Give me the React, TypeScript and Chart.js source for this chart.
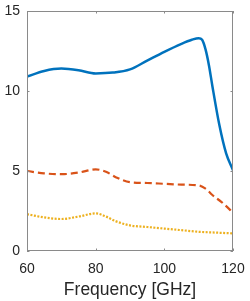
import React, { useEffect, useRef } from "react";
import { Chart, registerables } from "chart.js";

Chart.register(...registerables);

const freqBlue = [60, 65, 70, 75, 80, 85, 90, 95, 100, 105, 108, 110, 111, 112, 113, 114, 116, 118, 120];
const valBlue = [10.9, 11.25, 11.4, 11.3, 11.1, 11.15, 11.35, 11.9, 12.45, 12.95, 13.2, 13.3, 13.2, 12.6, 11.6, 10.3, 7.9, 6.1, 5.05];

const freqOrange = [60, 65, 70, 75, 80, 83, 86, 90, 95, 100, 105, 110, 112, 114, 117, 120];
const valOrange = [5.0, 4.85, 4.8, 4.9, 5.1, 4.95, 4.6, 4.3, 4.25, 4.2, 4.15, 4.1, 3.9, 3.5, 3.0, 2.4];

const freqYellow = [60, 65, 70, 75, 80, 83, 86, 90, 95, 100, 105, 110, 115, 120];
const valYellow = [2.3, 2.1, 2.0, 2.15, 2.35, 2.15, 1.85, 1.6, 1.5, 1.4, 1.3, 1.2, 1.15, 1.1];

const xTicks = [60, 80, 100, 120];
const yTicks = [0, 5, 10, 15];
const xLabel = "Frequency [GHz]";

const toPts = (xs: number[], ys: number[]) => xs.map((x, i) => ({ x, y: ys[i] }));

const boxPlugin = {
  id: "boxTicks",
  afterDraw(chart: any) {
    const { ctx, chartArea } = chart;
    const { left, right, top, bottom } = chartArea;
    const xs = chart.scales.x;
    const ys = chart.scales.y;
    const tl = 2.5;
    ctx.save();
    ctx.strokeStyle = "#8a8a8a";
    ctx.lineWidth = 1;
    ctx.strokeRect(left + 0.5, top + 0.5, right - left - 1, bottom - top - 1);
    ctx.beginPath();
    xTicks.forEach((v) => {
      const px = Math.round(xs.getPixelForValue(v)) + 0.5;
      ctx.moveTo(px, bottom);
      ctx.lineTo(px, bottom - tl);
      ctx.moveTo(px, top);
      ctx.lineTo(px, top + tl);
    });
    yTicks.forEach((v) => {
      const py = Math.round(ys.getPixelForValue(v)) + 0.5;
      ctx.moveTo(left, py);
      ctx.lineTo(left + tl, py);
      ctx.moveTo(right, py);
      ctx.lineTo(right - tl, py);
    });
    ctx.stroke();
    ctx.restore();
  },
};

const zeroPad = (s: any) => {
  s.paddingTop = 0;
  s.paddingBottom = 0;
  s.paddingLeft = 0;
  s.paddingRight = 0;
};

export default function App() {
  const ref = useRef<HTMLCanvasElement>(null);
  useEffect(() => {
    if (!ref.current) return;
    const chart = new Chart(ref.current, {
      type: "line",
      data: {
        datasets: [
          {
            data: toPts(freqBlue, valBlue),
            borderColor: "#0072BD",
            borderWidth: 2.5,
            pointRadius: 0,
            cubicInterpolationMode: "monotone",
            fill: false,
          },
          {
            data: toPts(freqOrange, valOrange),
            borderColor: "#D95319",
            borderWidth: 2.2,
            borderDash: [7, 4],
            pointRadius: 0,
            cubicInterpolationMode: "monotone",
            fill: false,
          },
          {
            data: toPts(freqYellow, valYellow),
            borderColor: "#EDB120",
            borderWidth: 2.2,
            borderDash: [2, 1.5],
            pointRadius: 0,
            cubicInterpolationMode: "monotone",
            fill: false,
          },
        ],
      },
      options: {
        responsive: false,
        animation: false,
        layout: { padding: { top: 11, right: 17, left: 0, bottom: 0 } },
        plugins: { legend: { display: false }, tooltip: { enabled: false } },
        scales: {
          x: {
            type: "linear",
            min: 60,
            max: 120,
            grid: { display: false, drawTicks: false },
            border: { display: false },
            afterFit: (s: any) => {
              s.height = 50;
              zeroPad(s);
            },
            afterBuildTicks: (s: any) => {
              s.ticks = xTicks.map((v) => ({ value: v }));
            },
            ticks: {
              color: "#262626",
              font: { family: "'Liberation Sans', Arial, sans-serif", size: 14 },
              padding: 10,
              maxRotation: 0,
              autoSkip: false,
            },
            title: {
              display: true,
              text: xLabel,
              color: "#262626",
              font: { family: "'Liberation Sans', Arial, sans-serif", size: 17.5 },
              padding: { top: 0, bottom: 0 },
            },
          },
          y: {
            type: "linear",
            min: 0,
            max: 15,
            grid: { display: false, drawTicks: false },
            border: { display: false },
            afterFit: (s: any) => {
              s.width = 27;
              zeroPad(s);
            },
            afterBuildTicks: (s: any) => {
              s.ticks = yTicks.map((v) => ({ value: v }));
            },
            ticks: {
              color: "#262626",
              font: { family: "'Liberation Sans', Arial, sans-serif", size: 14 },
              padding: 7,
              autoSkip: false,
            },
          },
        },
      },
      plugins: [boxPlugin],
    } as any);
    return () => chart.destroy();
  }, []);
  return (
    <div style={{ position: "absolute", left: 0, top: 0, width: 250, height: 301, background: "#fff" }}>
      <canvas ref={ref} width={250} height={301} style={{ display: "block" }} />
    </div>
  );
}
